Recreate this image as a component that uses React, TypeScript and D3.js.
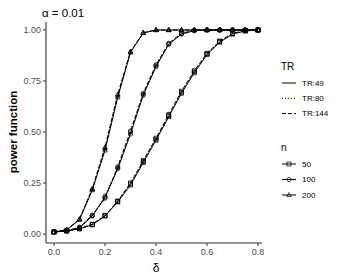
import * as d3 from "d3"

// power curves, delta = 0, 0.05, ..., 0.8
const deltas = [0, 0.05, 0.1, 0.15, 0.2, 0.25, 0.3, 0.35, 0.4, 0.45, 0.5, 0.55, 0.6, 0.65, 0.7, 0.75, 0.8]

const n50_tr49 = [0.01, 0.015, 0.025, 0.045, 0.088, 0.157, 0.24, 0.35, 0.46, 0.575, 0.69, 0.79, 0.88, 0.94, 0.98, 0.995, 1.0]
const n50_tr80 = [0.01, 0.015, 0.026, 0.047, 0.092, 0.16, 0.245, 0.355, 0.465, 0.58, 0.695, 0.795, 0.883, 0.943, 0.982, 0.996, 1.0]
const n50_tr144 = [0.01, 0.016, 0.027, 0.048, 0.09, 0.162, 0.25, 0.36, 0.47, 0.585, 0.7, 0.8, 0.886, 0.946, 0.984, 0.997, 1.0]

const n100_tr49 = [0.01, 0.015, 0.03, 0.088, 0.18, 0.32, 0.49, 0.68, 0.82, 0.93, 0.98, 0.997, 1.0, 1.0, 1.0, 1.0, 1.0]
const n100_tr80 = [0.01, 0.016, 0.032, 0.09, 0.185, 0.325, 0.5, 0.685, 0.825, 0.932, 0.982, 0.998, 1.0, 1.0, 1.0, 1.0, 1.0]
const n100_tr144 = [0.01, 0.016, 0.033, 0.092, 0.175, 0.33, 0.505, 0.69, 0.83, 0.935, 0.984, 0.998, 1.0, 1.0, 1.0, 1.0, 1.0]

const n200_tr49 = [0.01, 0.02, 0.07, 0.215, 0.41, 0.67, 0.89, 0.985, 1.0, 1.0, 1.0, 1.0, 1.0, 1.0, 1.0, 1.0, 1.0]
const n200_tr80 = [0.01, 0.021, 0.072, 0.22, 0.42, 0.68, 0.892, 0.986, 1.0, 1.0, 1.0, 1.0, 1.0, 1.0, 1.0, 1.0, 1.0]
const n200_tr144 = [0.01, 0.021, 0.073, 0.222, 0.425, 0.685, 0.895, 0.987, 1.0, 1.0, 1.0, 1.0, 1.0, 1.0, 1.0, 1.0, 1.0]

const trLabels = ["TR:49", "TR:80", "TR:144"]
const nLabels = ["50", "100", "200"]
const xTicks = [0, 0.2, 0.4, 0.6, 0.8]
const yTicks = [0, 0.25, 0.5, 0.75, 1]

const series = [
  { n: 0, tr: 0, values: n50_tr49 },
  { n: 0, tr: 1, values: n50_tr80 },
  { n: 0, tr: 2, values: n50_tr144 },
  { n: 1, tr: 0, values: n100_tr49 },
  { n: 1, tr: 1, values: n100_tr80 },
  { n: 1, tr: 2, values: n100_tr144 },
  { n: 2, tr: 0, values: n200_tr49 },
  { n: 2, tr: 1, values: n200_tr80 },
  { n: 2, tr: 2, values: n200_tr144 },
]

const dashes = [null, "1,2", "4,2"]
const font = "Liberation Sans, Arial, sans-serif"

function Shape({ kind, x, y }: { kind: number; x: number; y: number }) {
  if (kind === 0) return <rect x={x - 2} y={y - 2} width={4} height={4} fill="none" stroke="black" strokeWidth={0.7} />
  if (kind === 1) return <circle cx={x} cy={y} r={2.1} fill="none" stroke="black" strokeWidth={0.7} />
  return <path d={`M${x},${y - 2.5}L${x + 2.3},${y + 1.6}L${x - 2.3},${y + 1.6}Z`} fill="none" stroke="black" strokeWidth={0.7} />
}

export default function App() {
  const width = 339
  const height = 277
  const x = d3.scaleLinear().domain([0, 0.8]).range([54, 258])
  const y = d3.scaleLinear().domain([0, 1]).range([234, 30])
  const line = d3.line<number>().x((_, i) => x(deltas[i])).y(d => y(d))
  const axisLeft = 46
  const axisBottom = 243

  return (
    <svg width={width} height={height} style={{ position: "absolute", left: 0, top: 0, background: "white" }} fontFamily={font}>
      <text x={42} y={17} fontSize={11.5} fill="black">α = 0.01</text>

      {/* axes */}
      <line x1={axisLeft} x2={axisLeft} y1={22} y2={axisBottom} stroke="#333" strokeWidth={1.1} />
      <line x1={axisLeft} x2={262} y1={axisBottom} y2={axisBottom} stroke="#333" strokeWidth={1.1} />
      {yTicks.map(t => (
        <g key={t}>
          <line x1={axisLeft - 3} x2={axisLeft} y1={y(t)} y2={y(t)} stroke="#333" />
          <text x={axisLeft - 5} y={y(t)} dy="0.35em" textAnchor="end" fontSize={9} fill="#4d4d4d">{t.toFixed(2)}</text>
        </g>
      ))}
      {xTicks.map(t => (
        <g key={t}>
          <line x1={x(t)} x2={x(t)} y1={axisBottom} y2={axisBottom + 3} stroke="#333" />
          <text x={x(t)} y={axisBottom + 12} textAnchor="middle" fontSize={9} fill="#4d4d4d">{t.toFixed(1)}</text>
        </g>
      ))}
      <text x={156} y={272} textAnchor="middle" fontSize={12} fill="black">δ</text>
      <text transform={`translate(17,${132}) rotate(-90)`} textAnchor="middle" fontSize={11.5} fontWeight="bold" fill="black">power function</text>

      {/* curves */}
      {series.map((s, k) => (
        <g key={k}>
          <path d={line(s.values) ?? ""} fill="none" stroke="black" strokeWidth={1} strokeDasharray={dashes[s.tr] ?? undefined} />
          {s.values.map((v, i) => <Shape key={i} kind={s.n} x={x(deltas[i])} y={y(v)} />)}
        </g>
      ))}

      {/* legends */}
      <text x={281} y={70} fontSize={10} fill="black">TR</text>
      {trLabels.map((l, i) => (
        <g key={l}>
          <line x1={282} x2={296} y1={83 + i * 15.3} y2={83 + i * 15.3} stroke="black" strokeWidth={1} strokeDasharray={dashes[i] ?? undefined} />
          <text x={302} y={83 + i * 15.3} dy="0.35em" fontSize={8} fill="black">{l}</text>
        </g>
      ))}
      <text x={281} y={151} fontSize={10} fill="black">n</text>
      {nLabels.map((l, i) => (
        <g key={l}>
          <line x1={282} x2={296} y1={164 + i * 15.5} y2={164 + i * 15.5} stroke="black" strokeWidth={1} />
          <Shape kind={i} x={289} y={164 + i * 15.5} />
          <text x={302} y={164 + i * 15.5} dy="0.35em" fontSize={8} fill="black">{l}</text>
        </g>
      ))}
    </svg>
  )
}
